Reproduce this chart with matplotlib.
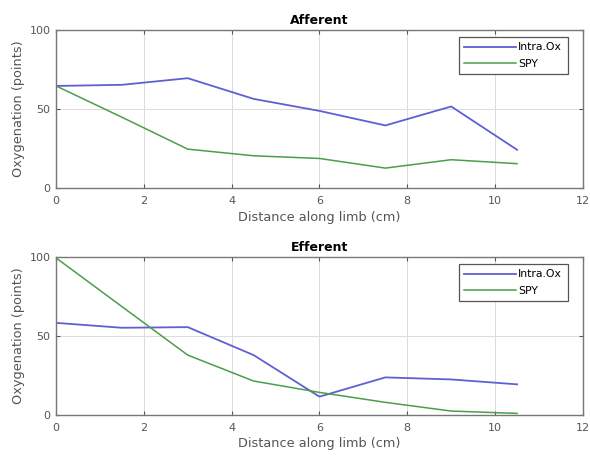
import matplotlib.pyplot as plt

# distance along limb (cm)
distance = [0, 1.5, 3, 4.5, 6, 7.5, 9, 10.5]

afferent_intraox = [64.6, 65.3, 69.5, 56.4, 48.8, 39.6, 51.6, 24.2]
afferent_spy = [64.6, 44.8, 24.6, 20.4, 18.7, 12.6, 17.9, 15.4]

efferent_intraox = [58.3, 55.2, 55.6, 37.9, 11.6, 23.8, 22.5, 19.4]
efferent_spy = [99.4, 68.6, 37.9, 21.5, 14.3, 8.0, 2.5, 1.0]

panel_titles = ['Afferent', 'Efferent']
series_labels = ['Intra.Ox', 'SPY']

BLUE = '#5f5fd4'
GREEN = '#4a9e4a'


def draw_panel(ax, title, intraox, spy):
    ax.plot(distance, intraox, color=BLUE, lw=1.3, label=series_labels[0])
    ax.plot(distance, spy, color=GREEN, lw=1.1, label=series_labels[1])
    ax.set_xlim(0, 12)
    ax.set_ylim(0, 100)
    ax.set_xticks([0, 2, 4, 6, 8, 10, 12])
    ax.set_yticks([0, 50, 100])
    ax.grid(True, color='#dcdcdc', lw=0.7)
    ax.tick_params(direction='in', top=True, right=True, labelsize=8,
                   colors='#555555', length=3)
    ax.tick_params(axis='x', pad=6)
    ax.tick_params(axis='y', pad=4)
    for s in ax.spines.values():
        s.set_color('#777777')
        s.set_linewidth(1.0)
    ax.set_title(title, fontsize=9, fontweight='bold', pad=4)
    ax.set_xlabel('Distance along limb (cm)', fontsize=9.3, color='#555555', labelpad=3)
    ax.set_ylabel('Oxygenation (points)', fontsize=9.3, color='#555555', labelpad=3)
    leg = ax.legend(loc='upper right', fontsize=7.8, handlelength=4.8,
                    fancybox=False, framealpha=1, borderpad=0.5,
                    labelspacing=0.6, handletextpad=0.2,
                    bbox_to_anchor=(0.971, 0.956), borderaxespad=0)
    leg.get_frame().set_edgecolor('#555555')
    leg.get_frame().set_linewidth(0.9)


fig = plt.figure(figsize=(5.9, 4.58), dpi=100)
ax1 = fig.add_axes([0.095, 0.5895, 0.893, 0.345])
ax2 = fig.add_axes([0.095, 0.0939, 0.893, 0.345])

draw_panel(ax1, panel_titles[0], afferent_intraox, afferent_spy)
draw_panel(ax2, panel_titles[1], efferent_intraox, efferent_spy)

fig.savefig('out.png', dpi=100)
